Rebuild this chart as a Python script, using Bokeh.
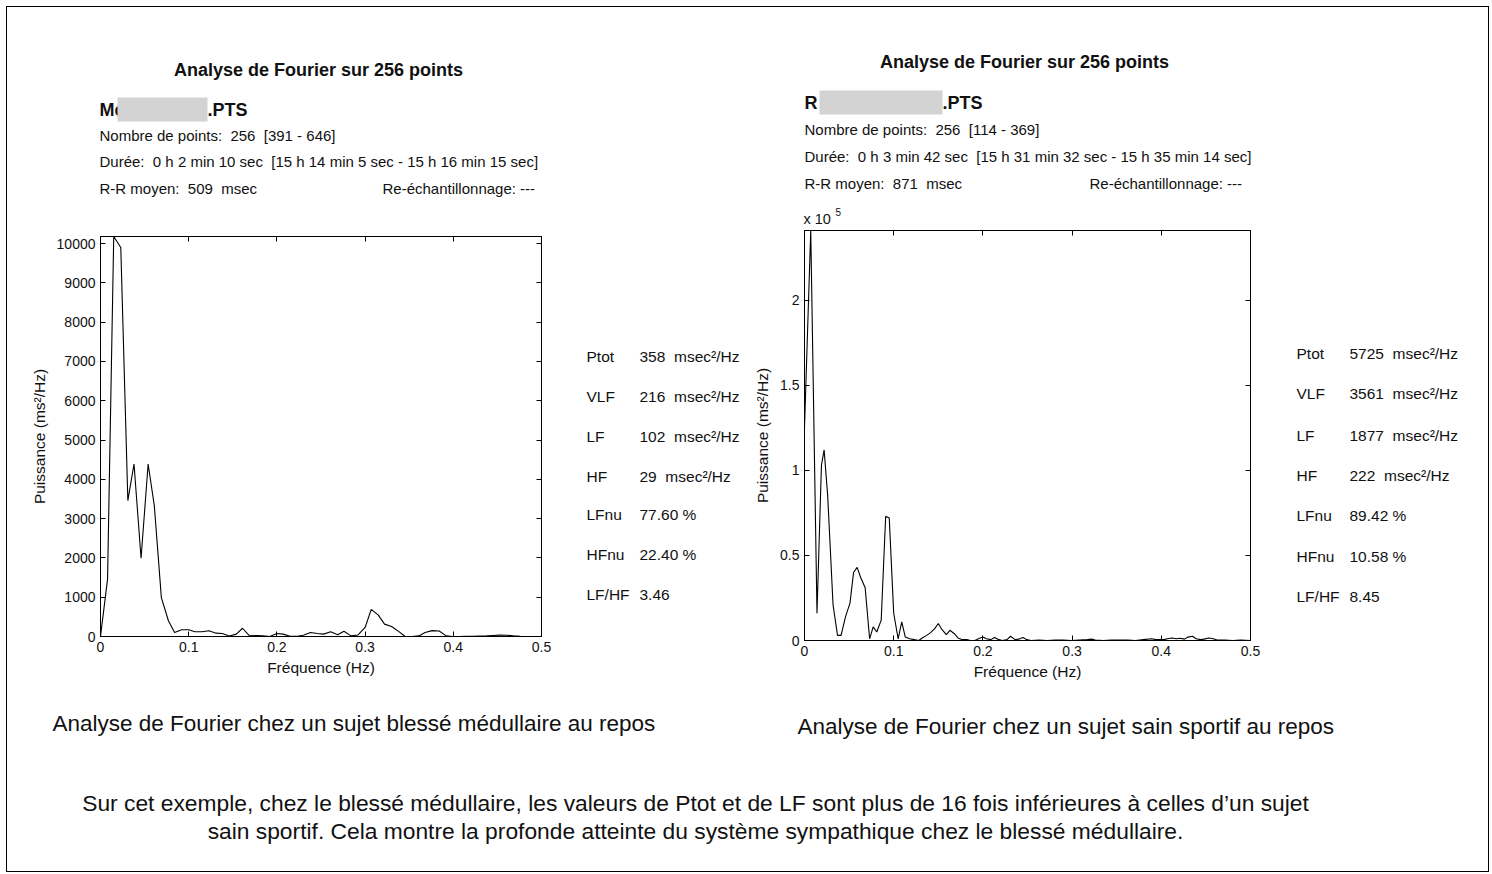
from bokeh.plotting import figure
from bokeh.models import Label, BoxAnnotation, LinearAxis, FixedTicker, Range1d, CustomLabelingPolicy
from bokeh.layouts import column, row
from bokeh.embed import file_html
from bokeh.resources import INLINE

FONT = "Liberation Sans"
INK = "#111111"
SP = "\u00a0"  # kept (non-collapsing) space

# ---------------- data ----------------
left_freq = [0.000, 0.008, 0.015, 0.023, 0.031, 0.038, 0.046, 0.054, 0.061, 0.069,
             0.077, 0.084, 0.092, 0.100, 0.107, 0.115, 0.123, 0.131, 0.138, 0.146,
             0.154, 0.161, 0.169, 0.177, 0.184, 0.192, 0.200, 0.207, 0.215, 0.223,
             0.230, 0.238, 0.246, 0.253, 0.261, 0.269, 0.276, 0.284, 0.292, 0.300,
             0.307, 0.315, 0.322, 0.330, 0.338, 0.345, 0.353, 0.361, 0.368, 0.376,
             0.384, 0.392, 0.399, 0.407, 0.415, 0.422, 0.430, 0.438, 0.445, 0.453,
             0.461, 0.468, 0.476, 0.484, 0.491, 0.499]
left_power = [0, 1460, 10180, 9900, 3460, 4390, 1990, 4390, 3330, 990,
              400, 100, 170, 170, 120, 120, 145, 85, 75, 15,
              60, 210, 15, 25, 15, 0, 75, 60, 5, 5,
              30, 100, 75, 60, 120, 45, 135, 15, 40, 230,
              690, 545, 315, 255, 130, 5, 0, 15, 100, 150,
              140, 15, 0, 0, 5, 5, 10, 15, 25, 35,
              30, 15, 5, 0, 0, 0]

right_freq = [0.000, 0.007, 0.014, 0.019, 0.022, 0.026, 0.032, 0.037, 0.041, 0.046,
              0.051, 0.055, 0.059, 0.063, 0.068, 0.073, 0.077, 0.081, 0.086, 0.091,
              0.095, 0.100, 0.105, 0.109, 0.113, 0.118, 0.123, 0.128, 0.132, 0.137,
              0.141, 0.146, 0.150, 0.154, 0.159, 0.163, 0.168, 0.172, 0.177, 0.182,
              0.186, 0.191, 0.195, 0.200, 0.204, 0.209, 0.213, 0.218, 0.222, 0.227,
              0.231, 0.236, 0.240, 0.245, 0.249, 0.254, 0.263, 0.272, 0.281, 0.290,
              0.299, 0.308, 0.317, 0.322, 0.326, 0.335, 0.344, 0.353, 0.362, 0.371,
              0.380, 0.389, 0.394, 0.403, 0.408, 0.412, 0.417, 0.421, 0.426, 0.430,
              0.435, 0.439, 0.444, 0.448, 0.453, 0.457, 0.462, 0.471, 0.480, 0.489,
              0.500]
# values in units of 10^5 ms^2/Hz (as on the axis)
right_power = [1.25, 2.41, 0.16, 1.03, 1.12, 0.85, 0.21, 0.03, 0.03, 0.14,
               0.22, 0.40, 0.43, 0.37, 0.31, 0.01, 0.08, 0.05, 0.12, 0.73,
               0.72, 0.16, 0.01, 0.11, 0.02, 0.01, 0.005, 0.0, 0.015, 0.03,
               0.045, 0.07, 0.10, 0.065, 0.035, 0.06, 0.04, 0.015, 0.005, 0.005,
               0.0, 0.0, 0.01, 0.02, 0.01, 0.005, 0.018, 0.005, 0.0, 0.005,
               0.025, 0.005, 0.008, 0.018, 0.005, 0.0, 0.002, 0.0, 0.003, 0.002,
               0.0, 0.003, 0.006, 0.008, 0.003, 0.0, 0.002, 0.003, 0.002, 0.0,
               0.005, 0.01, 0.005, 0.005, 0.012, 0.015, 0.01, 0.013, 0.008, 0.02,
               0.025, 0.01, 0.005, 0.008, 0.015, 0.012, 0.004, 0.002, 0.0, 0.002,
               0.0]

x_ticks = [0, 0.1, 0.2, 0.3, 0.4, 0.5]
x_tick_labels = ["0", "0.1", "0.2", "0.3", "0.4", "0.5"]
left_y_ticks = [0, 1000, 2000, 3000, 4000, 5000, 6000, 7000, 8000, 9000, 10000]
left_y_tick_labels = ["0", "1000", "2000", "3000", "4000", "5000", "6000", "7000", "8000", "9000", "10000"]
right_y_ticks = [0, 0.5, 1, 1.5, 2]
right_y_tick_labels = ["0", "0.5", "1", "1.5", "2"]

x_label = "Fréquence (Hz)"
y_label = "Puissance (ms²/Hz)"
panel_title = "Analyse de Fourier sur 256 points"

left_file = ["Mc", ".PTS"]
left_info = ["Nombre de points:" + SP + " 256" + SP + " [391 - 646]",
             "Durée:" + SP + " 0 h 2 min 10 sec" + SP + " [15 h 14 min 5 sec - 15 h 16 min 15 sec]",
             "R-R moyen:" + SP + " 509" + SP + " msec"]
right_file = ["R", ".PTS"]
right_info = ["Nombre de points:" + SP + " 256" + SP + " [114 - 369]",
              "Durée:" + SP + " 0 h 3 min 42 sec" + SP + " [15 h 31 min 32 sec - 15 h 35 min 14 sec]",
              "R-R moyen:" + SP + " 871" + SP + " msec"]
resample_text = "Re-échantillonnage: ---"
scale_text = ["x 10", "5"]

stat_names = ["Ptot", "VLF", "LF", "HF", "LFnu", "HFnu", "LF/HF"]
left_stats = ["358" + SP + " msec²/Hz", "216" + SP + " msec²/Hz", "102" + SP + " msec²/Hz",
              "29" + SP + " msec²/Hz", "77.60 %", "22.40 %", "3.46"]
right_stats = ["5725" + SP + " msec²/Hz", "3561" + SP + " msec²/Hz", "1877" + SP + " msec²/Hz",
               "222" + SP + " msec²/Hz", "89.42 %", "10.58 %", "8.45"]

caption_left = "Analyse de Fourier chez un sujet blessé médullaire au repos"
caption_right = "Analyse de Fourier chez un sujet sain sportif au repos"
paragraph = ["Sur cet exemple, chez le blessé médullaire, les valeurs de Ptot et de LF sont plus de 16 fois inférieures à celles d\u2019un sujet",
             "sain sportif. Cela montre la profonde atteinte du système sympathique chez le blessé médullaire."]


# ---------------- helpers ----------------
def text_fig(w, h):
    p = figure(width=w, height=h, min_border=0, output_backend="svg",
               toolbar_location=None, tools="", x_range=Range1d(0, w), y_range=Range1d(0, h))
    p.axis.visible = False
    p.xgrid.visible = False
    p.ygrid.visible = False
    p.outline_line_color = None
    p.background_fill_color = "white"
    p.border_fill_color = "white"
    return p


def add_text(p, ox, oy, X, Y, text, size="15px", bold=False, align="left"):
    # (ox, oy): page position of the figure frame's bottom-left corner
    p.add_layout(Label(x=X - ox, y=oy - Y, x_units="screen", y_units="screen", text=text,
                       text_font=FONT, text_font_size=size, text_color=INK,
                       text_font_style="bold" if bold else "normal",
                       text_align=align, text_baseline="middle"))


def add_box(p, ox, oy, X1, Y1, X2, Y2):
    p.add_layout(BoxAnnotation(left=X1 - ox, right=X2 - ox, top=oy - Y1, bottom=oy - Y2,
                               left_units="screen", right_units="screen",
                               top_units="screen", bottom_units="screen",
                               fill_color="#d3d3d3", fill_alpha=1.0, line_color=None,
                               level="overlay"))


def style_axis(ax, ticks, labels, show_labels=True):
    ax.ticker = FixedTicker(ticks=ticks)
    ax.major_tick_in = 5
    ax.major_tick_out = 0
    ax.minor_tick_line_color = None
    ax.axis_line_color = "black"
    ax.major_tick_line_color = "black"
    ax.major_label_text_font = FONT
    ax.major_label_text_color = INK
    if show_labels:
        ax.major_label_overrides = {t: l for t, l in zip(ticks, labels)}
        ax.major_label_text_font_size = "14px"
        ax.major_label_standoff = 5
    else:
        ax.major_label_text_font_size = "0px"
        ax.major_label_standoff = 0
        ax.major_label_policy = CustomLabelingPolicy(code="return []")
    ax.axis_label_text_font = FONT
    ax.axis_label_text_font_size = "15.5px"
    ax.axis_label_text_font_style = "normal"
    ax.axis_label_text_color = INK


def spectrum(freq, power, ymax, yticks, ylabels, fw, fh, bl, br, bt, bb):
    p = figure(frame_width=fw, frame_height=fh,
               min_border_left=bl, min_border_right=br, min_border_top=bt, min_border_bottom=bb,
               x_range=Range1d(0, 0.5), y_range=Range1d(0, ymax),
               output_backend="svg", toolbar_location=None, tools="")
    p.xgrid.visible = False
    p.ygrid.visible = False
    p.outline_line_color = "black"
    p.background_fill_color = "white"
    p.border_fill_color = "white"
    p.line(freq, power, line_color="black", line_width=1.1)
    style_axis(p.xaxis[0], x_ticks, x_tick_labels)
    style_axis(p.yaxis[0], yticks, ylabels)
    p.xaxis[0].axis_label = x_label
    p.yaxis[0].axis_label = y_label
    p.xaxis[0].axis_label_standoff = 4
    p.yaxis[0].axis_label_standoff = 6
    top = LinearAxis()
    right = LinearAxis()
    style_axis(top, x_ticks, x_tick_labels, show_labels=False)
    style_axis(right, yticks, ylabels, show_labels=False)
    p.add_layout(top, "above")
    p.add_layout(right, "right")
    return p


# page geometry: content starts at page (7, 7)
# ---------------- left panel ----------------
hdrL = text_fig(737, 200)                      # page y 7..207
oxH, oyH = 7, 207
add_text(hdrL, oxH, oyH, 318, 69, panel_title, "18px", bold=True, align="center")
add_text(hdrL, oxH, oyH, 99, 109, left_file[0], "18px", bold=True)
add_box(hdrL, oxH, oyH, 117, 97, 207, 121)
add_text(hdrL, oxH, oyH, 207, 109, left_file[1], "18px", bold=True)
for Y, t in zip([135, 161, 188], left_info):
    add_text(hdrL, oxH, oyH, 99, Y, t, "15px")
add_text(hdrL, oxH, oyH, 382, 188, resample_text, "15px")

pL = spectrum(left_freq, left_power, 10180, left_y_ticks, left_y_tick_labels,
              441, 400, 93, 12, 29, 61)        # page x 7..553, frame y 236..636

stL = text_fig(191, 490)                       # frame aligned with pL's frame (page y 236..636)
oxS, oyS = 553, 636
for Y, n, v in zip([356, 396, 436, 476, 514, 554, 594], stat_names, left_stats):
    add_text(stL, oxS, oyS, 586, Y, n, "15.5px")
    add_text(stL, oxS, oyS, 639, Y, v, "15.5px")

# ---------------- right panel ----------------
hdrR = text_fig(744, 219)                      # page x 744..1488, y 7..226
oxH2, oyH2 = 744, 226
add_text(hdrR, oxH2, oyH2, 1024, 61, panel_title, "18px", bold=True, align="center")
add_text(hdrR, oxH2, oyH2, 804, 102, right_file[0], "18px", bold=True)
add_box(hdrR, oxH2, oyH2, 819, 90, 942, 114)
add_text(hdrR, oxH2, oyH2, 942, 102, right_file[1], "18px", bold=True)
for Y, t in zip([129, 156, 183], right_info):
    add_text(hdrR, oxH2, oyH2, 804, Y, t, "15px")
add_text(hdrR, oxH2, oyH2, 1089, 183, resample_text, "15px")
add_text(hdrR, oxH2, oyH2, 803, 218, scale_text[0], "14.5px")
add_text(hdrR, oxH2, oyH2, 835, 211, scale_text[1], "10px")

pR = spectrum(right_freq, right_power, 2.41, right_y_ticks, right_y_tick_labels,
              446, 410, 60, 12, 4, 57)         # page x 744..1262, frame y 230..640

stR = text_fig(226, 471)                       # frame aligned with pR's frame (page y 230..640)
oxS2, oyS2 = 1262, 640
for Y, n, v in zip([353, 393, 435, 475, 515, 556, 596], stat_names, right_stats):
    add_text(stR, oxS2, oyS2, 1296, Y, n, "15.5px")
    add_text(stR, oxS2, oyS2, 1349, Y, v, "15.5px")

# ---------------- bottom captions ----------------
pB = text_fig(1481, 174)                       # page y 697..871
oxB, oyB = 7, 871
add_text(pB, oxB, oyB, 52, 723, caption_left, "22.5px")
add_text(pB, oxB, oyB, 797, 726, caption_right, "22.5px")
add_text(pB, oxB, oyB, 695, 802, paragraph[0], "22.8px", align="center")
add_text(pB, oxB, oyB, 695, 830, paragraph[1], "22.8px", align="center")

layout = column(
    row(column(hdrL, row(pL, stL)), column(hdrR, row(pR, stR))),
    pB,
    styles={"border": "1px solid black", "margin-left": "6px", "margin-top": "6px"},
)

open("out.html", "w").write(file_html(layout, INLINE))
